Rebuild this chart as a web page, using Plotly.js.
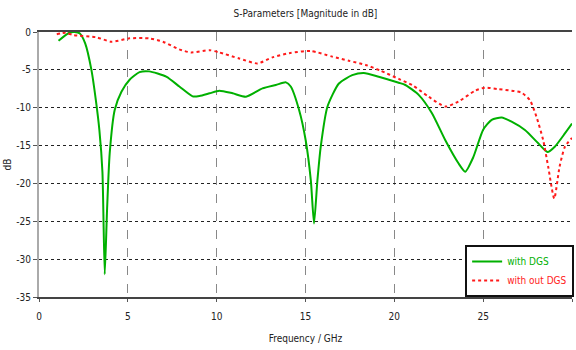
<!DOCTYPE html>
<html>
<head>
<meta charset="utf-8">
<script src="https://cdn.plot.ly/plotly-3.0.1.min.js"></script>
<style>html,body{margin:0;padding:0;background:#fff;}#chart{width:576px;height:350px;}</style>
</head>
<body>
<div id="chart"></div>
<script>
// with DGS (green)
const freqDGS = [1.1,1.7,2.0,2.3,2.6,2.95,3.2,3.4,3.57,3.7,3.83,3.98,4.26,4.64,5.1,5.66,6.2,7.16,7.9,8.65,9.03,9.6,10.15,10.9,11.65,12.58,13.33,13.9,14.17,14.64,15.01,15.3,15.48,15.67,15.86,16.23,16.88,17.63,18.28,19.12,20.25,20.62,21.37,22.11,22.87,23.6,23.99,24.45,25.0,25.48,26.04,26.6,27.35,28.1,28.62,29.03,29.6,30];
const dbDGS = [-1.15,-0.1,0,-0.2,-1.5,-5.0,-9,-13,-18.5,-32,-23.5,-16,-10.3,-7.9,-6.3,-5.3,-5.2,-5.9,-7.2,-8.5,-8.45,-8.1,-7.75,-8.1,-8.55,-7.45,-7.0,-6.65,-7.2,-10.3,-14.3,-19.6,-25.3,-19.6,-15.1,-9.9,-6.8,-5.7,-5.4,-5.9,-6.7,-7.0,-8.3,-10.7,-14.3,-17.3,-18.45,-16.5,-12.9,-11.6,-11.3,-11.85,-12.95,-14.7,-15.85,-15.15,-13.4,-12.1];
// without DGS (red)
const freqNo = [1.0,1.5,1.93,3.23,4.07,5.1,6.2,6.97,7.9,8.56,9.6,10.15,11.27,12.3,13.14,14.08,15.29,16.5,17.44,18.38,19.22,20.25,21.0,21.93,22.87,23.6,24.55,25.1,25.85,26.6,27.16,27.63,28.0,28.38,28.66,29.0,29.3,29.6,30];
const dbNo = [-0.3,-0.1,-0.4,-0.7,-1.28,-0.84,-0.84,-1.28,-2.3,-2.7,-2.4,-2.7,-3.5,-4.15,-3.35,-2.8,-2.5,-3.25,-3.8,-4.35,-5.1,-6.2,-7.0,-8.55,-9.85,-9.2,-7.75,-7.35,-7.55,-7.75,-8.0,-9.0,-11.2,-14.3,-17.8,-22.0,-17.8,-15.15,-14.0];
const names = ['with DGS','with out DGS'];
const xTicks = [0,5,10,15,20,25,30];
const yTicks = [0,-5,-10,-15,-20,-25,-30,-35];

const green = '#00b000', red = '#ff1a1a';
const fnt = 'DejaVu Sans Condensed, Liberation Sans Narrow, sans-serif';

const traces = [
  {x: freqDGS, y: dbDGS, mode: 'lines', name: '<span style="color:' + green + '">' + names[0] + '</span>',
   line: {color: green, width: 2, shape: 'spline', smoothing: 0.6}},
  {x: freqNo, y: dbNo, mode: 'lines', name: '<span style="color:' + red + '">' + names[1] + '</span>',
   line: {color: red, width: 2, dash: 'dot', shape: 'spline', smoothing: 0.6}}
];

const layout = {
  width: 576, height: 350,
  margin: {l: 39, r: 2, t: 32, b: 53},
  paper_bgcolor: '#fff', plot_bgcolor: '#fff',
  font: {family: fnt, size: 10, color: '#222'},
  title: {text: 'S-Parameters [Magnitude in dB]', x: 0.5, xref: 'paper', y: 0.962, yanchor: 'middle', font: {family: fnt, size: 10, color: '#222'}},
  xaxis: {range: [0, 30], tickvals: xTicks, ticktext: xTicks.map(String), ticks: 'outside', ticklen: 3, tickcolor: '#555',
          ticklabelstandoff: 6,
          showgrid: true, gridcolor: '#888', griddash: 'dash', gridwidth: 1, zeroline: false,
          showline: true, linecolor: '#444', linewidth: 2, mirror: true,
          title: {text: 'Frequency / GHz', standoff: 14, font: {family: fnt, size: 10}}},
  yaxis: {range: [-35, 0], tickvals: yTicks, ticktext: yTicks.map(String), ticks: 'outside', ticklen: 4, tickcolor: '#555',
          showgrid: true, gridcolor: '#222', griddash: 'dot', gridwidth: 1, zeroline: false,
          showline: true, linecolor: '#aaa', linewidth: 2,
          title: {text: 'dB', standoff: 3, font: {family: fnt, size: 10}}},
  showlegend: true,
  legend: {x: 1.004, xanchor: 'right', y: 0, yanchor: 'bottom', bgcolor: '#fff', bordercolor: '#111', borderwidth: 2,
           font: {family: fnt, size: 10}, itemwidth: 30, tracegroupgap: 0}
};

Plotly.newPlot('chart', traces, layout, {displayModeBar: false, staticPlot: true});
</script>
</body>
</html>
